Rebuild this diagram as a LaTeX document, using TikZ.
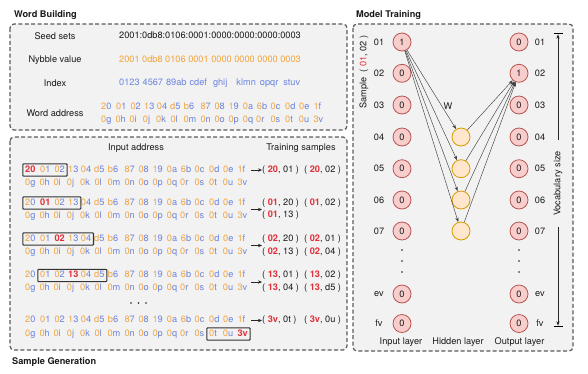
\documentclass[tikz,border=0pt]{standalone}
\usepackage{fontspec}
\setmainfont{TeX Gyre Heros}
\usetikzlibrary{arrows.meta,fit}
\definecolor{cO}{HTML}{F2A33A}
\definecolor{cB}{HTML}{6B84E0}
\definecolor{cR}{HTML}{E0303A}
\definecolor{txt}{HTML}{1A1A1A}
\definecolor{panel}{HTML}{F2F2F2}
\definecolor{dashc}{HTML}{5A5A5A}
\definecolor{nfill}{HTML}{F8CECC}
\definecolor{ndraw}{HTML}{B85450}
\definecolor{hfill}{HTML}{FFE6CC}
\definecolor{hdraw}{HTML}{D79B00}
\newcommand\mypair[2]{( \textcolor{cR}{\textbf{#1}}, #2 )}
\newcommand\addrrow[5]{%
 \foreach \ox/\xa/\xb [count=\i] in {0/2/0,15/0/1,29.3/0/2,43/1/3,55.7/0/4,69/d/5,82.7/b/6,99.3/8/7,113.3/0/8,127.3/1/9,141.7/0/a,155.7/6/b,169.5/0/c,184/0/d,198/0/e,212.3/1/f}{%
   \ifnum\i=#5\relax
     \node[tk] (#1t\i) at (#2+\ox,#3) {\textbf{\textcolor{cR}{\xa\xb}}};
   \else
     \node[tk] (#1t\i) at (#2+\ox,#3) {\textcolor{cO}{\xa}\textcolor{cB}{\xb}};
   \fi}%
 \foreach \ox/\xa/\xb [count=\i from 17] in {0/0/g,14.3/0/h,28.3/0/i,41.7/0/j,55/0/k,69.3/0/l,82.3/0/m,99.3/0/n,113.3/0/o,127.3/0/p,141.7/0/q,155/0/r,169.3/0/s,184/0/t,197.7/0/u,212.3/3/v}{%
   \ifnum\i=#5\relax
     \node[tk] (#1t\i) at (#2+\ox,#4) {\textbf{\textcolor{cR}{\xa\xb}}};
   \else
     \node[tk] (#1t\i) at (#2+\ox,#4) {\textcolor{cO}{\xa}\textcolor{cB}{\xb}};
   \fi}%
}
\begin{document}
\begin{tikzpicture}[x=1pt,y=-1pt, font=\fontsize{9.2}{11}\selectfont, text=txt,
 panelbox/.style={draw=dashc, fill=panel, line width=1.2pt, dash pattern=on 4pt off 2.4pt, rounded corners=4pt},
 title/.style={font=\fontsize{9.2}{11}\selectfont\bfseries, anchor=west, inner sep=0pt},
 tk/.style={anchor=west, inner sep=0pt, text height=6.8pt, text depth=1.9pt},
 hl/.style={draw=black!80, line width=1.1pt, inner xsep=2.2pt, inner ysep=1.6pt, rounded corners=0.8pt},
 smp/.style={anchor=west, inner sep=0pt, text height=6.8pt, text depth=1.9pt},
 sarr/.style={-{Stealth[length=4pt,width=3.4pt]}, line width=0.6pt, draw=black!85},
 neuron/.style={circle, draw=ndraw, fill=nfill, line width=0.8pt, minimum size=18pt, inner sep=0pt},
 hidden/.style={circle, draw=hdraw, fill=hfill, line width=0.8pt, minimum size=18pt, inner sep=0pt},
 conn/.style={-{Stealth[length=4.5pt,width=3.3pt]}, line width=0.45pt, draw=black!75},
 varr/.style={-{Stealth[length=4.5pt,width=3.3pt]}, line width=0.6pt, draw=black!85},
]
\useasboundingbox (0,0) rectangle (588,373);
% panels
\draw[panelbox] (10,24) rectangle (347,130);
\draw[panelbox] (10,137) rectangle (347,350);
\draw[panelbox] (353,24) rectangle (573,351);
\node[title] (t1) at (14,15) {Word Building};
\node[title] (t2) at (356,15) {Model Training};
\node[title] (t3) at (12,362) {Sample Generation};
% word building
\node (ls) at (55,36) {Seed sets};
\node (lnv) at (55,60) {Nybble value};
\node (lidx) at (55,83) {Index};
\node (lwa) at (55,113) {Word address};
\node[tk] (vs) at (119,36) {2001:0db8:0106:0001:0000:0000:0000:0003};
\node[tk,text=cO] (vnv) at (119,60) {2001 0db8 0106 0001 0000 0000 0000 0003};
\foreach \g [count=\k from 0] in {0123,4567,89ab,cdef,ghij,klmn,opqr,stuv}
  \node[tk,text=cB] (ix\k) at (119+23.45*\k,83) {\g};
\addrrow{w}{101}{107}{120.5}{0}
% sample generation
\node (hin) at (136,148) {Input address};
\node (htr) at (301,148) {Training samples};
\addrrow{a}{25}{170}{183}{1}
\addrrow{b}{25}{203}{216}{2}
\addrrow{c}{25}{239}{252}{3}
\addrrow{d}{25}{275.5}{288.5}{4}
\addrrow{e}{25}{320.5}{334}{32}
\node[hl, fit=(at1)(at3)] (h1) {};
\node[hl, fit=(bt1)(bt4)] (h2) {};
\node[hl, fit=(ct1)(ct5)] (h3) {};
\node[hl, fit=(dt2)(dt6)] (h4) {};
\node[hl, fit=(et30)(et32)] (h5) {};
\foreach \dx in {131,138.5,146} \fill[txt] (\dx,303) circle (0.8pt);
% samples
\node[smp] (s1a) at (262,170) {\mypair{20}{01}};
\node[smp] (s1b) at (304,170) {\mypair{20}{02}};
\node[smp] (s2a) at (262,203) {\mypair{01}{20}};
\node[smp] (s2b) at (304,203) {\mypair{01}{02}};
\node[smp] (s2c) at (262,215.5) {\mypair{01}{13}};
\node[smp] (s3a) at (262,239) {\mypair{02}{20}};
\node[smp] (s3b) at (304,239) {\mypair{02}{01}};
\node[smp] (s3c) at (262,252) {\mypair{02}{13}};
\node[smp] (s3d) at (304,252) {\mypair{02}{04}};
\node[smp] (s4a) at (262,275.5) {\mypair{13}{01}};
\node[smp] (s4b) at (304,275.5) {\mypair{13}{02}};
\node[smp] (s4c) at (262,288) {\mypair{13}{04}};
\node[smp] (s4d) at (304,288) {\mypair{13}{d5}};
\node[smp] (s5a) at (262,320.5) {\mypair{3v}{0t}};
\node[smp] (s5b) at (304,320.5) {\mypair{3v}{0u}};
\coordinate (r1) at (251,170);
\coordinate (r2) at (251,209.5);
\coordinate (r3) at (251,245.5);
\coordinate (r4) at (251,282);
\coordinate (r5) at (251,320.5);
\draw[sarr] (r1) -- (r1 -| s1a.west);
\draw[sarr] (r2) -- (r2 -| s2a.west);
\draw[sarr] (r3) -- (r3 -| s3a.west);
\draw[sarr] (r4) -- (r4 -| s4a.west);
\draw[sarr] (r5) -- (r5 -| s5a.west);
% model training
\foreach \nm/\yy/\vi/\vo in {01/42/1/0, 02/73.3/0/1, 03/105/0/0, 04/137/0/0, 05/168.7/0/0, 06/200/0/0, 07/231/0/0, ev/294/0/0, fv/323.5/0/0} {
  \node (il\nm) at (379,\yy) {\nm};
  \node[neuron] (in\nm) at (402,\yy) {\vi};
  \node[neuron] (on\nm) at (519,\yy) {\vo};
  \node (ol\nm) at (540,\yy) {\nm};
}
\foreach \yy in {250,261,272} {
  \fill[txt] (402,\yy) circle (0.8pt);
  \fill[txt] (519,\yy) circle (0.8pt);
}
\foreach \k/\yy in {1/137,2/168.7,3/200,4/231}
  \node[hidden] (hd\k) at (461,\yy) {};
\foreach \k in {1,...,4} {
  \draw[conn] (in01) -- (hd\k);
  \draw[conn] (hd\k) -- (on02);
}
\node (wlab) at (448,106) {W};
\node[rotate=90] (samp) at (364,72) {Sample \ ( \textcolor{cR}{01}, 02 )};
\node[rotate=90, inner xsep=11pt, inner ysep=1pt] (voc) at (558,183.5) {Vocabulary size};
\coordinate (vt) at (558,34.3);
\coordinate (vb) at (558,325.7);
\draw[varr] (voc.east) -- (vt);
\draw[varr] (voc.west) -- (vb);
\draw[line width=1.4pt] (553.5,33.5) -- (562.5,33.5);
\draw[line width=1.4pt] (553.5,326.5) -- (562.5,326.5);
\node (lin) at (401,342) {Input layer};
\node (lhid) at (458,342) {Hidden layer};
\node (lout) at (519.5,342) {Output layer};
\end{tikzpicture}
\end{document}
